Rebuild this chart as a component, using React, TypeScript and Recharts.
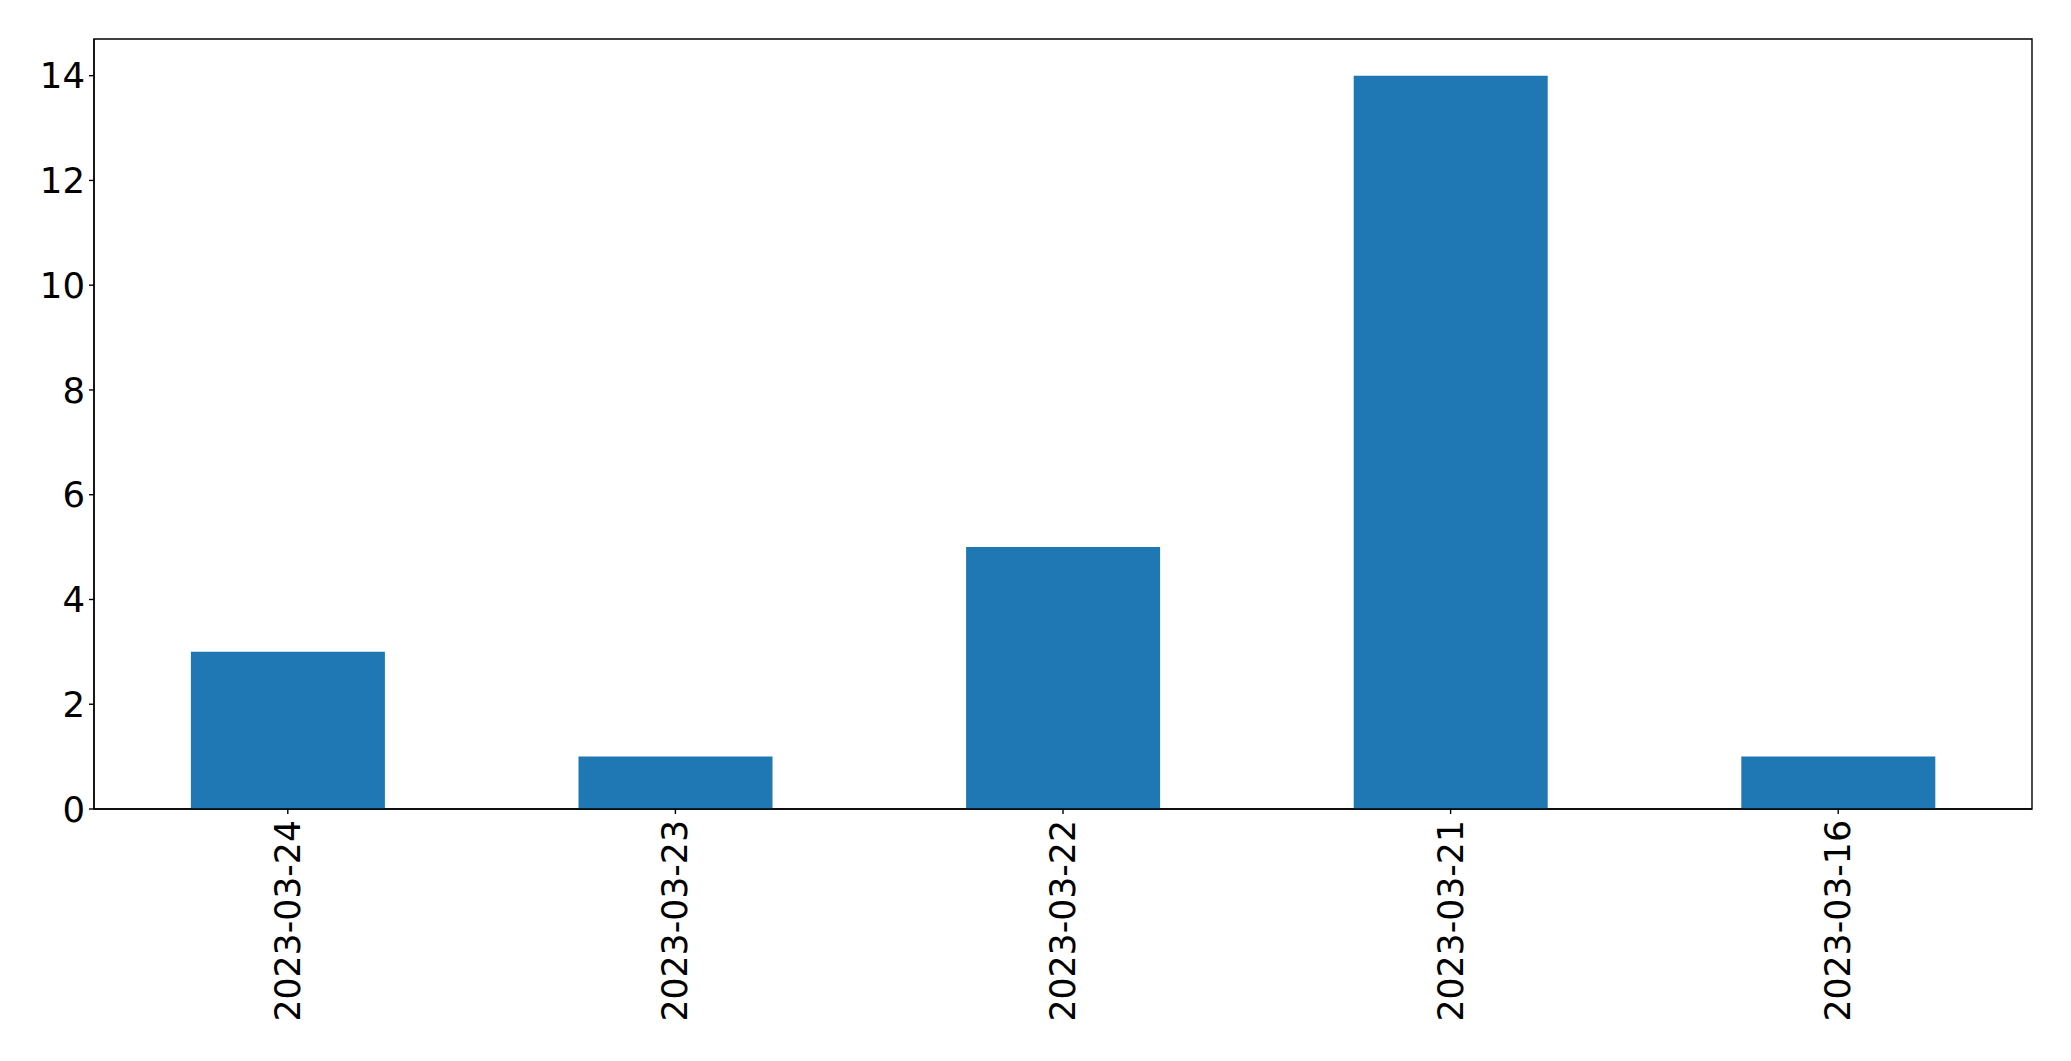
import React from 'react';
import { BarChart, Bar, XAxis, YAxis, ReferenceArea } from 'recharts';

const datas = ['2023-03-24', '2023-03-23', '2023-03-22', '2023-03-21', '2023-03-16'];
const contagens = [3, 1, 5, 14, 1];
const ticksY = [0, 2, 4, 6, 8, 10, 12, 14];
const limiteY = 14.7;

const dados = datas.map((d, i) => ({ data: d, valor: contagens[i] }));

const FONTE = 'DejaVu Sans, sans-serif';

// Rótulo do eixo X girado 90 graus, como no matplotlib
const TickRotacionado = (props: any) => {
  const { x, y, payload } = props;
  return (
    <text
      x={x}
      y={y}
      transform={`rotate(-90 ${x} ${y})`}
      textAnchor="end"
      dominantBaseline="central"
      fontFamily={FONTE}
      fontSize={34.7}
      fill="#000"
    >
      {payload.value}
    </text>
  );
};

const App: React.FC = () => {
  return (
    <div style={{ position: 'absolute', left: 0, top: 0, background: '#fff' }}>
      <BarChart
        width={2071}
        height={1061}
        data={dados}
        margin={{ top: 39, right: 39, bottom: 0, left: 0 }}
        barCategoryGap="25%"
      >
        <XAxis
          dataKey="data"
          height={252}
          stroke="#000"
          strokeWidth={1.4}
          tickSize={5}
          tickMargin={6}
          interval={0}
          tick={<TickRotacionado />}
        />
        <YAxis
          width={94}
          domain={[0, limiteY]}
          ticks={ticksY}
          stroke="#000"
          strokeWidth={1.4}
          tickSize={5}
          tickMargin={4}
          tick={{ fontFamily: FONTE, fontSize: 35.5, fill: '#000' }}
        />
        <Bar dataKey="valor" fill="#1f77b4" isAnimationActive={false} />
        {/* moldura do gráfico */}
        <ReferenceArea y1={0} y2={limiteY} fill="none" fillOpacity={0} stroke="#000" strokeWidth={1.4} ifOverflow="visible" />
      </BarChart>
    </div>
  );
};

export default App;
